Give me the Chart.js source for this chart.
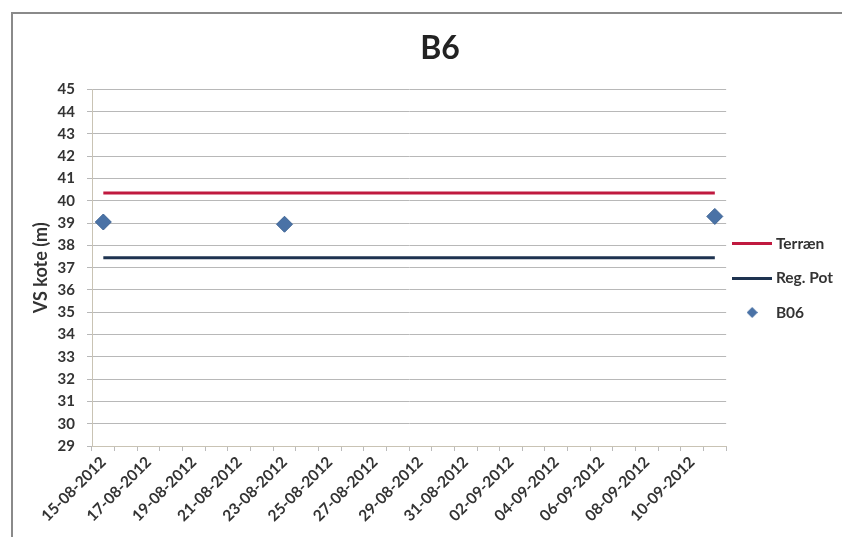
<!DOCTYPE html>
<html>
<head>
<meta charset="utf-8">
<script src="https://cdn.jsdelivr.net/npm/chart.js@4"></script>
<style>
  html, body { margin: 0; padding: 0; background: #fff; }
  #wrap { position: relative; width: 842px; height: 537px; overflow: hidden; }
  #frame { position: absolute; left: 11px; top: 12px; width: 840px; height: 540px;
           border-left: 2px solid #8a8a8a; border-top: 2px solid #8a8a8a; pointer-events: none; }
</style>
</head>
<body>
<div id="wrap">
  <canvas id="chart" width="842" height="537"></canvas>
  <div id="frame"></div>
</div>
<script>
// dagene paa x-aksen (en kategori pr. dag)
const days = ['15-08-2012', '16-08-2012', '17-08-2012', '18-08-2012', '19-08-2012', '20-08-2012',
  '21-08-2012', '22-08-2012', '23-08-2012', '24-08-2012', '25-08-2012', '26-08-2012',
  '27-08-2012', '28-08-2012', '29-08-2012', '30-08-2012', '31-08-2012', '01-09-2012',
  '02-09-2012', '03-09-2012', '04-09-2012', '05-09-2012', '06-09-2012', '07-09-2012',
  '08-09-2012', '09-09-2012', '10-09-2012', '11-09-2012'];

const lineDates = ['15-08-2012', '11-09-2012'];
const terrainLevels = [40.35, 40.35];
const regPotLevels = [37.45, 37.45];

const b06Dates = ['15-08-2012', '23-08-2012', '11-09-2012'];
const b06Levels = [39.05, 38.95, 39.3];

const yMin = 29, yMax = 45;

const textColor = '#333';
const fontFamily = 'Lato, "Open Sans", sans-serif';

function toPoints(dates, values) {
  return dates.map((d, i) => ({ x: d, y: values[i] }));
}

// smaa ikoner til legenden, saa streg og tekst kommer taettere paa hinanden
function lineIcon(width, color) {
  const c = document.createElement('canvas');
  c.width = width; c.height = 3;
  const g = c.getContext('2d');
  g.fillStyle = color;
  g.fillRect(0, 0, width, 3);
  return c;
}

function diamondIcon(size, color) {
  const c = document.createElement('canvas');
  c.width = size; c.height = size;
  const g = c.getContext('2d');
  g.fillStyle = color;
  g.beginPath();
  g.moveTo(size / 2, 0);
  g.lineTo(size, size / 2);
  g.lineTo(size / 2, size);
  g.lineTo(0, size / 2);
  g.closePath();
  g.fill();
  return c;
}

// flyt legenden lidt op og til venstre, som i Excel-figuren
const legendShift = {
  id: 'legendShift',
  afterLayout(chart) {
    if (!chart.legend) return;
    chart.legend.bottom -= 10;
    chart.legend.left -= 9;
  }
};

const ctx = document.getElementById('chart').getContext('2d');

new Chart(ctx, {
  type: 'line',
  data: {
    labels: days,
    datasets: [
      {
        label: 'Terræn',
        data: toPoints(lineDates, terrainLevels),
        borderColor: '#c0193f',
        borderWidth: 3,
        pointRadius: 0,
        pointStyle: 'line'
      },
      {
        label: 'Reg. Pot',
        data: toPoints(lineDates, regPotLevels),
        borderColor: '#1e3350',
        borderWidth: 3,
        pointRadius: 0,
        pointStyle: 'line'
      },
      {
        label: 'B06',
        data: toPoints(b06Dates, b06Levels),
        showLine: false,
        pointStyle: 'rectRot',
        pointRadius: 8,
        backgroundColor: '#4a72a6',
        borderColor: '#3d6394',
        borderWidth: 1
      }
    ]
  },
  options: {
    responsive: false,
    animation: false,
    layout: { padding: { top: 29, left: 28, right: -10, bottom: 0 } },
    plugins: {
      title: {
        display: true,
        text: 'B6',
        color: '#222',
        font: { family: fontFamily, size: 32, weight: 'bold' },
        padding: { top: 0, bottom: 22 }
      },
      legend: {
        position: 'right',
        labels: {
          usePointStyle: true,
          pointStyleWidth: 32,
          boxHeight: 10,
          padding: 19,
          color: textColor,
          font: { family: fontFamily, size: 15.5, weight: 'bold' },
          generateLabels(chart) {
            return chart.data.datasets.map((ds, i) => ({
              text: ds.label,
              datasetIndex: i,
              pointStyle: ds.pointStyle === 'line'
                ? lineIcon(40, ds.borderColor)
                : diamondIcon(11, ds.backgroundColor),
              strokeStyle: ds.borderColor,
              fillStyle: ds.backgroundColor || ds.borderColor,
              lineWidth: 0,
              fontColor: textColor
            }));
          }
        }
      },
      tooltip: { enabled: false }
    },
    scales: {
      x: {
        type: 'category',
        offset: true,
        grid: { drawOnChartArea: false, color: '#bbb', tickLength: 5, offset: true },
        border: { color: '#c9c3b4' },
        ticks: {
          autoSkip: false,
          maxRotation: 45,
          minRotation: 45,
          padding: 2,
          color: textColor,
          font: { family: fontFamily, size: 15.5, weight: 'bold' },
          callback(value, index) {
            return index % 2 === 0 ? days[index] : '';
          }
        },
        afterFit(scale) { scale.height = 91; }
      },
      y: {
        min: yMin,
        max: yMax,
        ticks: {
          stepSize: 1,
          color: textColor,
          padding: 12,
          font: { family: fontFamily, size: 15, weight: 'bold' }
        },
        grid: { color: '#b8b8b8', tickLength: 5 },
        border: { color: '#c9c3b4' },
        title: {
          display: true,
          text: 'VS kote (m)',
          color: textColor,
          font: { family: fontFamily, size: 18, weight: 'bold' },
          padding: 2
        },
        afterFit(scale) { scale.width = 64; }
      }
    }
  },
  plugins: [legendShift]
});
</script>
</body>
</html>
